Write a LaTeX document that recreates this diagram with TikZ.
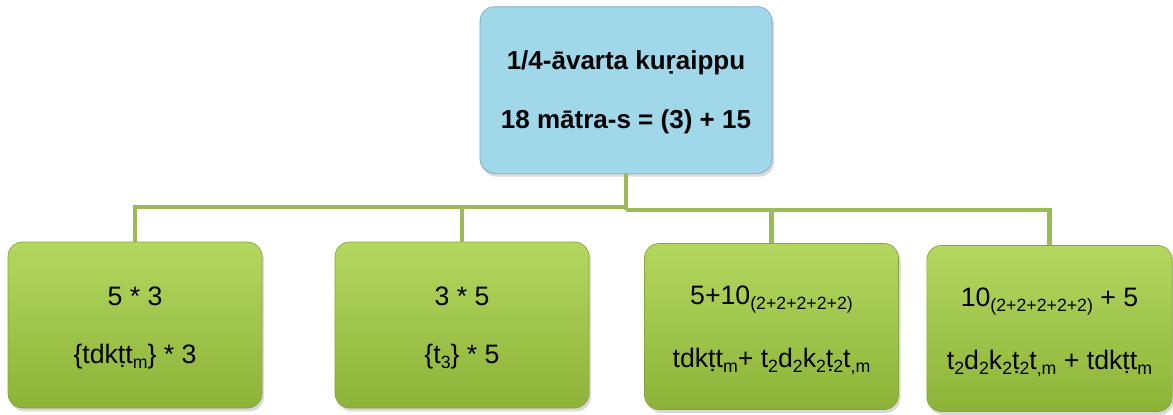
\documentclass[tikz,border=0pt]{standalone}
\usepackage{fontspec}
\setmainfont{Liberation Sans}
\usetikzlibrary{shadows}

\definecolor{rootblue}{RGB}{160,216,234}
\definecolor{rootedge}{RGB}{125,165,185}
\definecolor{leaftop}{RGB}{180,215,96}
\definecolor{leafbot}{RGB}{140,179,56}
\definecolor{leafedge}{RGB}{130,165,60}
\definecolor{linkgreen}{RGB}{155,187,89}

% subscript as set in the boxes
\newcommand{\lowsub}[1]{\raisebox{-0.35ex}{\fontsize{13.3}{13.3}\selectfont #1}}

\tikzset{every picture/.style={line width=0.75pt}}
\tikzset{
	rootbox/.style={rectangle, rounded corners=11pt, draw=rootedge, line width=0.5pt, fill=rootblue,
		minimum width=219pt, minimum height=125pt, align=center, text depth=0pt,
		font=\fontsize{19.5}{44.25}\selectfont\bfseries,
		drop shadow={opacity=0.3, shadow xshift=1.5pt, shadow yshift=-2.5pt}},
	leafbox/.style={rectangle, rounded corners=11pt, draw=leafedge, line width=0.5pt,
		top color=leaftop, bottom color=leafbot,
		minimum width=190.5pt, minimum height=124.5pt, align=center, text depth=0pt,
		font=\fontsize{20}{43.5}\selectfont,
		drop shadow={opacity=0.3, shadow xshift=1.5pt, shadow yshift=-2.5pt}},
	link/.style={draw=linkgreen, line width=3.2pt}
}

\begin{document}
\begin{tikzpicture}[x=0.75pt,y=0.75pt,yscale=-1,xscale=1]
	\useasboundingbox (0,0) rectangle (1173,414);

	% Root
	\node[rootbox] (root) at (626,90) {1/4-āvarta kuṛaippu\\18 mātra-s = (3) + 15};

	% Leaves
	\node[leafbox] (five) at (135,325) {5 * 3\\\{tdkṭt\lowsub{m}\} * 3};
	\node[leafbox] (three) at (462,325) {3 * 5\\\{t\lowsub{3}\} * 5};
	\node[leafbox] (mixa) at (771.5,326.5) {5+10\lowsub{(2+2+2+2+2)}\\[4pt]tdkṭt\lowsub{m}+ t\lowsub{2}d\lowsub{2}k\lowsub{2}ṭ\lowsub{2}t\lowsub{,m}};
	\node[leafbox, minimum width=184pt] (mixb) at (1049.5,328.5) {10\lowsub{(2+2+2+2+2)} + 5\\[4pt]t\lowsub{2}d\lowsub{2}k\lowsub{2}ṭ\lowsub{2}t\lowsub{,m} + tdkṭt\lowsub{m}};

	% Connectors
	\coordinate (hub) at (626,207);
	\coordinate (hubr) at (626,210);
	\draw[link] (root.south) -- (hubr);
	\foreach \leaf in {five,three}
		\draw[link] (hub) -| (\leaf.north);
	\foreach \leaf in {mixa,mixb}
		\draw[link] (hubr) -| (\leaf.north);

\end{tikzpicture}
\end{document}
